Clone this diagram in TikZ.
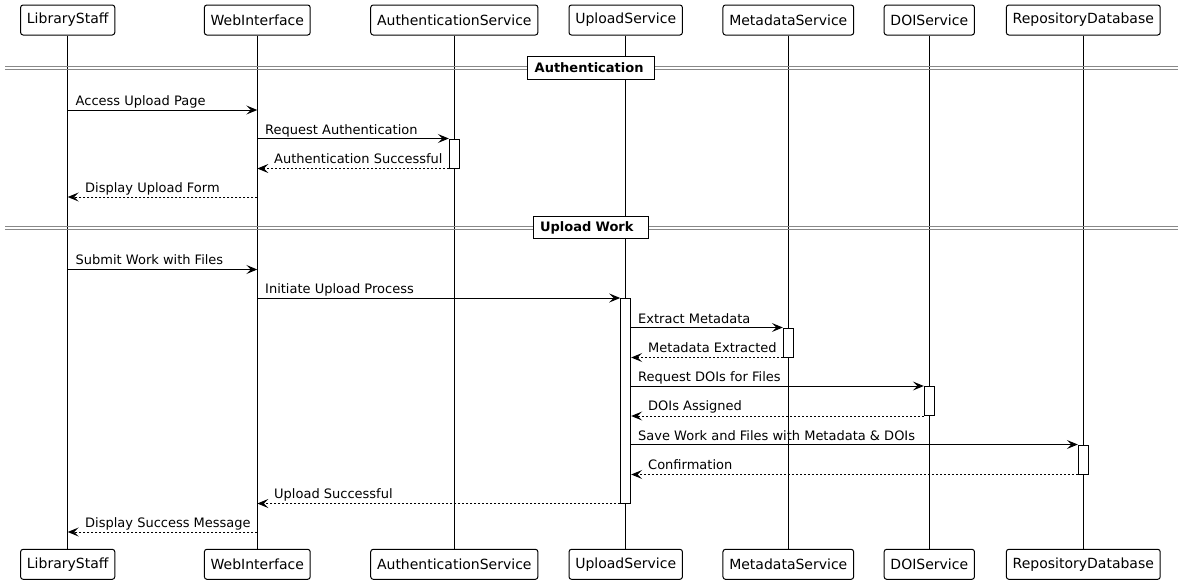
\documentclass[tikz,border=0pt]{standalone}
\usepackage{fontspec}
\setmainfont{DejaVu Sans}
\usetikzlibrary{arrows.meta}
\definecolor{sepgray}{RGB}{136,136,136}
\begin{document}
\begin{tikzpicture}[x=1pt,y=-1pt,
  part/.style={draw, rounded corners=2.5pt, line width=1pt, minimum height=30pt, inner xsep=6.3pt, inner ysep=0pt, font=\fontsize{14}{16}\selectfont},
  life/.style={line width=0.9pt},
  act/.style={draw, fill=white, line width=1pt, minimum width=10pt, inner sep=0pt},
  msg/.style={line width=1pt, -{Stealth[length=11pt,width=9pt,inset=4.5pt]}},
  ret/.style={msg, dash pattern=on 2pt off 2pt},
  lbl/.style={anchor=base west, inner sep=0pt, font=\fontsize{13}{15}\selectfont},
  sepline/.style={draw=sepgray, line width=1pt},
  sepbox/.style={draw, fill=white, line width=1pt, minimum height=22.6pt, inner xsep=7pt, inner ysep=0pt, align=left, font=\bfseries\fontsize{13}{15}\selectfont}]
\useasboundingbox[fill=white] (0,0) rectangle (1183,584);

% participants
\node[part] (lst) at (67.7,20) {LibraryStaff};
\node[part] (lsb) at (67.7,564.3) {LibraryStaff};
\node[part] (wit) at (257.3,20) {WebInterface};
\node[part] (wib) at (257.3,564.3) {WebInterface};
\node[part] (ast) at (454.3,20) {AuthenticationService};
\node[part] (asb) at (454.3,564.3) {AuthenticationService};
\node[part] (ust) at (625.7,20) {UploadService};
\node[part] (usb) at (625.7,564.3) {UploadService};
\node[part] (mst) at (788.3,20) {MetadataService};
\node[part] (msb) at (788.3,564.3) {MetadataService};
\node[part] (dst) at (929.3,20) {DOIService};
\node[part] (dsb) at (929.3,564.3) {DOIService};
\node[part] (rdt) at (1083.3,20) {RepositoryDatabase};
\node[part] (rdb) at (1083.3,564.3) {RepositoryDatabase};

% lifelines
\draw[life] (lst) -- (lsb);
\draw[life] (wit) -- (wib);
\draw[life] (ast) -- (asb);
\draw[life] (ust) -- (usb);
\draw[life] (mst) -- (msb);
\draw[life] (dst) -- (dsb);
\draw[life] (rdt) -- (rdb);

% separators
\draw[sepline] (5,66.5) -- (1178,66.5);
\draw[sepline] (5,69.5) -- (1178,69.5);
\node[sepbox, text width=112.6pt] (sep1) at (591,68) {Authentication};
\draw[sepline] (5,226) -- (1178,226);
\draw[sepline] (5,229) -- (1178,229);
\node[sepbox, text width=101pt] (sep2) at (590.5,227.5) {Upload Work};

% activation bars
\node[act, minimum height=29pt] (aas) at (454.3,153.5) {};
\node[act, minimum height=204.5pt] (aus) at (625.7,400.75) {};
\node[act, minimum height=29pt] (ams) at (788.3,342.5) {};
\node[act, minimum height=29pt] (ads) at (929.3,401) {};
\node[act, minimum height=29pt] (ard) at (1083.3,459.5) {};

% messages
\draw[msg] (lst |- 0,110) -- (wit |- 0,110);
\node[lbl] at (75.5,105) {Access Upload Page};
\draw[msg] (wit |- aas.north) -- (aas.north west);
\node[lbl] at (265,134) {Request Authentication};
\draw[ret] (aas.south west) -- (wit |- aas.south);
\node[lbl] at (274,163) {Authentication Successful};
\draw[ret] (wit |- 0,197) -- (lst |- 0,197);
\node[lbl] at (85,192) {Display Upload Form};

\draw[msg] (lst |- 0,269.5) -- (wit |- 0,269.5);
\node[lbl] at (75.5,264.5) {Submit Work with Files};
\draw[msg] (wit |- aus.north) -- (aus.north west);
\node[lbl] at (265,293.5) {Initiate Upload Process};
\draw[msg] (aus.east |- ams.north) -- (ams.north west);
\node[lbl] at (638,323) {Extract Metadata};
\draw[ret] (ams.south west) -- (aus.east |- ams.south);
\node[lbl] at (648,352) {Metadata Extracted};
\draw[msg] (aus.east |- ads.north) -- (ads.north west);
\node[lbl] at (638,381.5) {Request DOIs for Files};
\draw[ret] (ads.south west) -- (aus.east |- ads.south);
\node[lbl] at (648,410.5) {DOIs Assigned};
\draw[msg] (aus.east |- ard.north) -- (ard.north west);
\node[lbl] at (638,440) {Save Work and Files with Metadata \& DOIs};
\draw[ret] (ard.south west) -- (aus.east |- ard.south);
\node[lbl] at (648,469) {Confirmation};
\draw[ret] (aus.south west) -- (wit |- aus.south);
\node[lbl] at (274,498) {Upload Successful};
\draw[ret] (wit |- 0,532) -- (lst |- 0,532);
\node[lbl] at (85,527) {Display Success Message};
\end{tikzpicture}
\end{document}
